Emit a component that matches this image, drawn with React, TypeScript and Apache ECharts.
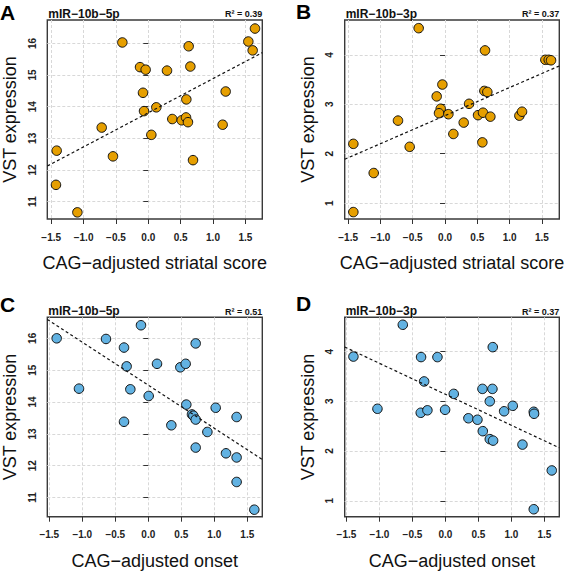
import React, { useEffect, useRef } from 'react';
import * as echarts from 'echarts';

// ---- data ----
// Panel A: miR-10b-5p vs CAG-adjusted striatal score
const strScoreA = [-1.416, -1.427, -1.096, -0.72, -0.546, -0.401, -0.128, -0.041, -0.082, -0.066, 0.047, 0.124, 0.289, 0.371, 0.516, 0.583, 0.613, 0.588, 0.624, 0.65, 0.691, 1.149, 1.196, 1.546, 1.613, 1.649];
const vst5pA = [12.61, 11.53, 10.66, 13.34, 12.43, 16.03, 15.25, 15.17, 14.44, 13.86, 13.11, 13.98, 15.14, 13.61, 13.57, 13.66, 13.51, 14.23, 15.91, 15.27, 12.31, 13.43, 14.48, 16.06, 15.78, 16.47];
// Panel B: miR-10b-3p vs CAG-adjusted striatal score
const strScoreB = [-1.419, -1.419, -1.104, -0.728, -0.547, -0.408, -0.129, -0.041, -0.067, -0.093, 0.052, 0.129, 0.289, 0.372, 0.511, 0.588, 0.578, 0.609, 0.655, 0.619, 0.702, 1.151, 1.192, 1.553, 1.605, 1.641];
const vst3pB = [0.82, 2.2, 1.61, 2.67, 2.14, 4.54, 3.16, 3.4, 2.91, 2.82, 2.8, 2.4, 2.63, 3.01, 2.78, 2.83, 2.23, 3.27, 3.25, 4.09, 2.75, 2.77, 2.85, 3.9, 3.9, 3.89];
// Panel C: miR-10b-5p vs CAG-adjusted onset
const onsetC = [-1.388, -1.05, -0.641, -0.368, -0.328, -0.368, -0.272, -0.111, 0.006, 0.132, 0.349, 0.485, 0.566, 0.576, 0.662, 0.682, 0.718, 0.718, 0.718, 0.895, 1.021, 1.177, 1.338, 1.338, 1.338, 1.606];
const vst5pC = [16.0, 14.42, 15.98, 15.71, 15.12, 13.38, 14.4, 16.41, 14.19, 15.2, 13.27, 15.09, 15.2, 13.92, 13.61, 13.57, 15.84, 13.45, 12.57, 13.06, 13.82, 12.39, 13.53, 12.26, 11.49, 10.62];
// Panel D: miR-10b-3p vs CAG-adjusted onset
const onsetD = [-1.394, -1.03, -0.646, -0.369, -0.374, -0.323, -0.273, -0.121, -0.005, 0.126, 0.348, 0.485, 0.561, 0.566, 0.672, 0.672, 0.717, 0.712, 0.722, 0.889, 1.02, 1.167, 1.338, 1.343, 1.338, 1.611];
const vst3pD = [3.9, 2.85, 4.54, 3.89, 2.77, 3.4, 2.82, 3.89, 2.83, 3.15, 2.66, 2.63, 3.25, 2.4, 3.0, 2.24, 4.09, 3.25, 2.21, 2.8, 2.91, 2.13, 2.79, 2.75, 0.83, 1.61];

const r2Values = ['0.39', '0.37', '0.51', '0.37'];
const panelLetters = ['A', 'B', 'C', 'D'];
const mirNames = ['mIR\u221210b\u22125p', 'mIR\u221210b\u22123p', 'mIR\u221210b\u22125p', 'mIR\u221210b\u22123p'];
const xTitles = ['CAG\u2212adjusted striatal score', 'CAG\u2212adjusted striatal score', 'CAG\u2212adjusted onset', 'CAG\u2212adjusted onset'];
const yTitle = 'VST expression';
const xTickValues = [-1.5, -1.0, -0.5, 0.0, 0.5, 1.0, 1.5];
const yTicks5p = [11, 12, 13, 14, 15, 16];
const yTicks3p = [1, 2, 3, 4];

// ---- layout / style ----
const ORANGE = '#E69F00';
const BLUE = '#62B2E2';
const FONT = '"Liberation Sans", Arial, Helvetica, sans-serif';

const panels = [
  { x: strScoreA, y: vst5pA, color: ORANGE, yTicks: yTicks5p, xr: [-1.561, 1.762], yr: [10.45, 16.74], left: 47.3, top: 20, w: 215, h: 199, letterX: 0, letterY: 12 },
  { x: strScoreB, y: vst3pB, color: ORANGE, yTicks: yTicks3p, xr: [-1.553, 1.769], yr: [0.68, 4.705], left: 344.7, top: 20, w: 214.6, h: 199, letterX: 296, letterY: 11 },
  { x: onsetC, y: vst5pC, color: BLUE, yTicks: yTicks5p, xr: [-1.53, 1.727], yr: [10.4, 16.66], left: 47.3, top: 317.3, w: 215, h: 199.4, letterX: 0, letterY: 304 },
  { x: onsetD, y: vst3pD, color: BLUE, yTicks: yTicks3p, xr: [-1.526, 1.725], yr: [0.68, 4.69], left: 344.7, top: 317.3, w: 214.6, h: 199.4, letterX: 296, letterY: 303 },
];

function ols(xs: number[], ys: number[]) {
  const n = xs.length;
  const mx = xs.reduce((a, b) => a + b, 0) / n;
  const my = ys.reduce((a, b) => a + b, 0) / n;
  let sxy = 0, sxx = 0;
  for (let i = 0; i < n; i++) {
    sxy += (xs[i] - mx) * (ys[i] - my);
    sxx += (xs[i] - mx) ** 2;
  }
  const b = sxy / sxx;
  return { a: my - b * mx, b };
}

const fmtX = (v: number) => (v < 0 ? '\u2212' : '') + Math.abs(v).toFixed(1);

function buildOption() {
  const grid: any[] = [];
  const xAxis: any[] = [];
  const yAxis: any[] = [];
  const series: any[] = [];
  const graphic: any[] = [];

  panels.forEach((p, i) => {
    grid.push({
      left: p.left, top: p.top, width: p.w, height: p.h,
      show: true, borderColor: '#3a3a3a', borderWidth: 1.4, backgroundColor: 'transparent',
    });
    xAxis.push({
      type: 'value', gridIndex: i, min: p.xr[0], max: p.xr[1],
      name: xTitles[i], nameLocation: 'middle', nameGap: 35,
      nameTextStyle: { fontFamily: FONT, fontSize: 18, color: '#111' },
      axisLine: { show: false },
      axisTick: { show: true, length: 5, customValues: xTickValues, lineStyle: { color: '#333', width: 1 } },
      axisLabel: {
        customValues: xTickValues, formatter: fmtX, margin: 13,
        fontFamily: FONT, fontSize: 10, fontWeight: 'bold', color: '#222',
      },
      splitLine: { show: true, lineStyle: { color: '#d8d8d8', type: [3, 2], width: 1 } },
    });
    yAxis.push({
      type: 'value', gridIndex: i, min: p.yr[0], max: p.yr[1],
      name: yTitle, nameLocation: 'middle', nameGap: 28, nameRotate: 90,
      nameTextStyle: { fontFamily: FONT, fontSize: 18, color: '#111' },
      axisLine: { show: false },
      axisTick: { show: true, length: 5, customValues: p.yTicks, lineStyle: { color: '#333', width: 1 } },
      axisLabel: {
        customValues: p.yTicks, formatter: (v: number) => String(v), rotate: 90, margin: 10,
        fontFamily: FONT, fontSize: 10, fontWeight: 'bold', color: '#222',
      },
      splitLine: { show: true, lineStyle: { color: '#d8d8d8', type: [3, 2], width: 1 } },
    });
    series.push({
      type: 'scatter', xAxisIndex: i, yAxisIndex: i,
      data: p.x.map((xv, k) => [xv, p.y[k]]),
      symbol: 'circle', symbolSize: 9.5,
      itemStyle: { color: p.color, borderColor: '#111', borderWidth: 1, opacity: 1 },
      z: 3,
    });
    const fit = ols(p.x, p.y);
    series.push({
      type: 'line', xAxisIndex: i, yAxisIndex: i,
      data: [[p.xr[0], fit.a + fit.b * p.xr[0]], [p.xr[1], fit.a + fit.b * p.xr[1]]],
      symbol: 'none', silent: true, clip: true,
      lineStyle: { color: '#111', width: 1.2, type: [3, 2.5] },
      z: 4,
    });
    graphic.push({
      type: 'text', x: p.letterX, y: p.letterY,
      style: { text: panelLetters[i], font: `bold 21px ${FONT}`, fill: '#000', textAlign: 'left', textVerticalAlign: 'middle' },
    });
    graphic.push({
      type: 'text', x: p.left + 1, y: p.top - 6.2,
      style: { text: mirNames[i], font: `bold 12px ${FONT}`, fill: '#111', textAlign: 'left', textVerticalAlign: 'middle' },
    });
    graphic.push({
      type: 'text', x: p.left + p.w, y: p.top - 5.6,
      style: { text: 'R\u00B2 = ' + r2Values[i], font: `bold 9px ${FONT}`, fill: '#111', textAlign: 'right', textVerticalAlign: 'middle' },
    });
  });

  return { animation: false, backgroundColor: '#fff', grid, xAxis, yAxis, series, graphic };
}

export default function App() {
  const ref = useRef<HTMLDivElement>(null);
  useEffect(() => {
    if (!ref.current) return;
    const chart = echarts.init(ref.current, undefined, { renderer: 'svg' });
    chart.setOption(buildOption() as any);
    return () => chart.dispose();
  }, []);
  return <div ref={ref} style={{ position: 'absolute', left: 0, top: 0, width: 567, height: 572, background: '#fff' }} />;
}
